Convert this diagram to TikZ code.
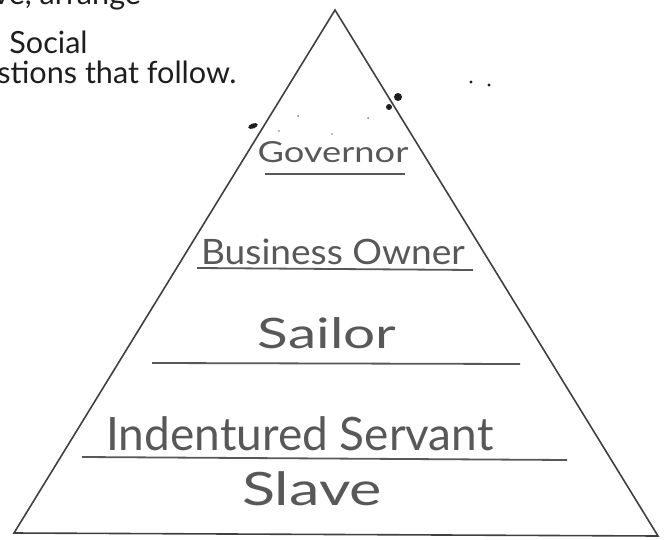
\documentclass[tikz,border=0pt]{standalone}
\usepackage{fontspec}
\setsansfont{Lato}
\newfontfamily\handfont{Lato}
\usetikzlibrary{positioning}
\definecolor{ink}{HTML}{585858}
\definecolor{printink}{HTML}{1e1e1e}
\tikzset{rank/.style 2 args={
    font=\handfont\fontsize{#1}{#1}\selectfont,
    text=ink,
    anchor=base,
    inner sep=0pt,
    xscale=#2,
    transform shape
  },
  rankline/.style={draw=ink, line width=0.9pt},
  sideline/.style={draw=printink!85, line width=0.8pt, line join=miter},
  intro/.style={font=\sffamily\fontsize{15.3}{18}\selectfont,
    text=printink, anchor=base west, inner sep=0pt},
  blot/.style={fill=printink, draw=none},
  speck/.style={fill=printink!60, draw=none}
}

\begin{document}
\begin{tikzpicture}[x=0.5pt,y=-0.5pt]
  \useasboundingbox (0,0) rectangle (667,539);
  % printed instructions, cut off at the top
  \begin{scope}
    \clip (0,0) rectangle (667,539);
    \node[intro] (introA) at (-7,5) {ve, arrange};
    \node[intro] (introB) at (9,54) {Social};
    \node[intro] (introC) at (-3,84) {stions that follow.};
  \end{scope}

  % pyramid
  \coordinate (apex) at (335,10);
  \coordinate (baseL) at (14,533);
  \coordinate (baseR) at (658,536);
  \draw[sideline] (apex) -- (baseL) -- (baseR) -- cycle;

  % ranks
  \node[rank={14.5}{1.25}] (governor) at (333,163) {Governor};
  \node[rank={17.5}{1.06}] (owner) at (333,264) {Business Owner};
  \node[rank={21}{1.35}] (sailor) at (327,348) {Sailor};
  \node[rank={23}{1.0}] (servant) at (300,450) {Indentured Servant};
  \node[rank={23}{1.33}] (slave) at (312,505) {Slave};

  \draw[rankline] (265,174) -- (405,174);
  \draw[rankline] (197,268) -- (473,270);
  \draw[rankline] (152,363) -- (520,364);
  \draw[rankline] (82,457) -- (567,460);

  % ink spots
  \fill[blot] (398,97) circle (4);
  \fill[blot] (389,107) circle (3);
  \fill[blot, rotate around={20:(253,126)}] (253,126) ellipse (5 and 2.5);
  \fill[blot] (471,82) circle (1.6);
  \fill[blot] (489,85) circle (1.6);
  \fill[speck] (298,116) circle (1);
  \fill[speck] (279,131) circle (0.9);
  \fill[speck] (368,118) circle (1);
  \fill[speck] (332,134) circle (0.9);
\end{tikzpicture}
\end{document}
